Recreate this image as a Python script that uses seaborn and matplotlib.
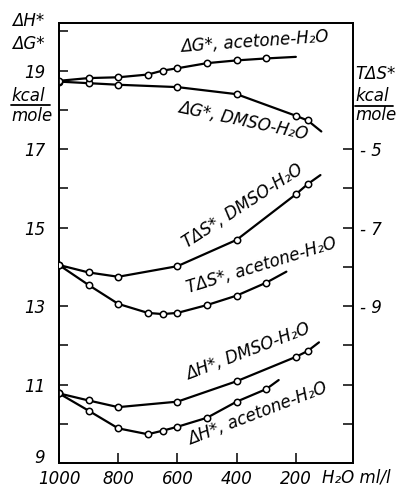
import matplotlib
matplotlib.use("Agg")
import matplotlib.pyplot as plt
import seaborn as sns
import pandas as pd
from matplotlib.lines import Line2D

sns.set_style("ticks")
plt.rcParams["font.family"] = ["DejaVu Sans"]
plt.rcParams["font.style"] = "italic"
for k in ("text.color", "axes.labelcolor", "xtick.color", "ytick.color", "axes.edgecolor"):
    plt.rcParams[k] = "black"

# ---------------- data ----------------
water_dmso = [1000, 900, 800, 600, 400, 200, 160]
water_acetone = [1000, 900, 800, 700, 650, 600, 500, 400, 300]

dG_dmso = [18.72, 18.68, 18.64, 18.58, 18.40, 17.85, 17.73]
dG_acetone = [18.74, 18.81, 18.83, 18.90, 19.00, 19.06, 19.19, 19.26, 19.31]
TdS_dmso = [-7.95, -8.14, -8.25, -7.98, -7.31, -6.15, -5.89]
TdS_acetone = [-7.95, -8.46, -8.94, -9.17, -9.20, -9.17, -8.97, -8.73, -8.40]
dH_dmso = [10.78, 10.60, 10.43, 10.57, 11.09, 11.71, 11.86]
dH_acetone = [10.78, 10.34, 9.89, 9.74, 9.83, 9.93, 10.16, 10.57, 10.89]

# where each drawn curve ends (beyond last measured point)
curve_end_x = {"dG_dmso": 114, "dG_acetone": 200, "TdS_dmso": 117,
               "TdS_acetone": 232, "dH_dmso": 122, "dH_acetone": 258}
curve_end_y = {"dG_dmso": 17.45, "dG_acetone": 19.35, "TdS_dmso": -5.66,
               "TdS_acetone": -8.12, "dH_dmso": 12.08, "dH_acetone": 11.12}

left_ticks = [9, 11, 13, 15, 17, 19]
left_minor = [10, 12, 14, 16, 18, 20]
right_ticks = [-5, -7, -9]
right_tick_labels = ["- 5", "- 7", "- 9"]
right_minor = [-6, -8, -10, -11, -12]
x_ticks = [1000, 800, 600, 400, 200]
x_tick_labels = ["1000", "800", "600", "400", "200"]
OFFSET = 22  # right scale = left scale - 22

# ---------------- figure ----------------
fig = plt.figure(figsize=(4.04, 4.87), dpi=100)
ax = fig.add_axes([59 / 404, 1 - 463.3 / 487, (353 - 59) / 404, (463.3 - 22.7) / 487])
ax.set_xlim(1000, 7)
ax.set_ylim(9, 20.22)
ax2 = ax.twinx()
ax2.set_ylim(9 - OFFSET, 20.22 - OFFSET)


def draw(axis, xs, ys, key):
    line_df = pd.DataFrame({"x": list(xs) + [curve_end_x[key]],
                            "y": list(ys) + [curve_end_y[key]]})
    sns.lineplot(data=line_df, x="x", y="y", ax=axis, color="black", lw=1.6,
                 sort=False, estimator=None)
    pt_df = pd.DataFrame({"x": xs, "y": ys})
    sns.scatterplot(data=pt_df, x="x", y="y", ax=axis, marker="o", s=21,
                    facecolor="white", edgecolor="black", linewidth=1.1, zorder=5)


draw(ax, water_dmso, dG_dmso, "dG_dmso")
draw(ax, water_acetone, dG_acetone, "dG_acetone")
draw(ax, water_dmso, dH_dmso, "dH_dmso")
draw(ax, water_acetone, dH_acetone, "dH_acetone")
draw(ax2, water_dmso, TdS_dmso, "TdS_dmso")
draw(ax2, water_acetone, TdS_acetone, "TdS_acetone")

for a in (ax, ax2):
    a.set_xlabel("")
    a.set_ylabel("")
    for s in a.spines.values():
        s.set_linewidth(1.3)
        s.set_color("black")
        s.set_visible(True)

ax.set_xticks(x_ticks)
ax.set_xticklabels(x_tick_labels)
ax.set_yticks(left_ticks)
ax.set_yticklabels([str(t) for t in left_ticks])
ax.set_yticks(left_minor, minor=True)
ax.tick_params(axis="x", direction="in", length=7, width=1.1, pad=5, labelsize=12)
ax.tick_params(axis="y", which="both", direction="in", length=6.7, width=1.1,
               pad=10, labelsize=12, right=False)
# lowest left label sits just above the bottom axis, as in the reference
ax.get_yticklabels()[0].set_va("baseline")
ax2.set_yticks(right_ticks)
ax2.set_yticklabels(right_tick_labels)
ax2.set_yticks(right_minor, minor=True)
ax2.tick_params(axis="y", which="both", direction="in", length=7.5, width=1.1,
                pad=5, labelsize=12)

# curve labels
lab = dict(fontsize=12, style="italic", ha="center", va="center", rotation_mode="anchor")
ax.text(339, 19.73, "ΔG*, acetone-H₂O", rotation=4, **lab)
ax.text(377, 17.72, "ΔG*, DMSO-H₂O", rotation=-12, **lab)
ax2.text(379, 15.55 - OFFSET, "TΔS*, DMSO-H₂O", rotation=33, **lab)
ax2.text(315, 14.05 - OFFSET, "TΔS*, acetone-H₂O", rotation=17, **lab)
ax.text(362, 11.83, "ΔH*, DMSO-H₂O", rotation=21, **lab)
ax.text(329, 10.26, "ΔH*, acetone-H₂O", rotation=21, **lab)

# axis titles
W, H = 404, 487


def ft(x, y, s, ha="left", size=12):
    fig.text(x / W, 1 - y / H, s, fontsize=size, style="italic", ha=ha, va="center")


ft(12, 21, "ΔH*")
ft(12, 44, "ΔG*")
ft(11, 96, "kcal")
ft(11, 116, "mole")
fig.add_artist(Line2D([11 / W, 50 / W], [1 - 105 / H, 1 - 105 / H], color="black", lw=1.3))
ft(355, 74, "TΔS*")
ft(355, 96, "kcal")
ft(355, 115, "mole")
fig.add_artist(Line2D([355 / W, 393 / W], [1 - 106 / H, 1 - 106 / H], color="black", lw=1.3))
ft(322, 478, "H₂O ml/l")

fig.savefig("out.png", dpi=100)
